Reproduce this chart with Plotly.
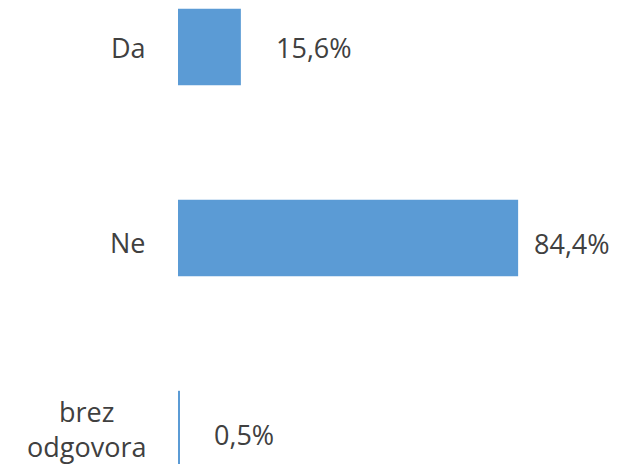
import plotly.graph_objects as go

categories = ["Da", "Ne", "brez<br>odgovora"]
values = [15.6, 84.4, 0.5]
value_labels = ["15,6%", "84,4%", "0,5%"]

bar_color = "#5B9BD5"
text_color = "#404040"
font_family = "Open Sans"

y_pos = list(range(len(categories)))

fig = go.Figure()
fig.add_trace(go.Bar(
    x=values, y=y_pos, orientation="h",
    marker=dict(color=bar_color, line=dict(width=0)),
    width=0.4,
    hoverinfo="skip",
))

# value labels, offset like the original
label_shift = [33, 14, 32]
label_yshift = [0, -5, -5]
for v, yy, lab, dx, dy in zip(values, y_pos, value_labels, label_shift, label_yshift):
    fig.add_annotation(x=v, y=yy, text=lab, showarrow=False, xanchor="left",
                       xshift=dx, yshift=dy,
                       font=dict(size=27, color=text_color, family=font_family))

# category labels (centered for the two-line one)
cat_yshift = [0, -4, 0]
for c, yy, dy in zip(categories, y_pos, cat_yshift):
    fig.add_annotation(x=0, xref="paper", y=yy, text=c, showarrow=False,
                       xanchor="right", align="center", xshift=-30, yshift=dy,
                       font=dict(size=27, color=text_color, family=font_family))

# page body adds an 8px offset, so the plot area starts at 8px
fig.update_xaxes(range=[0, 440 / 4.03], visible=False, fixedrange=True)
fig.update_yaxes(range=[(464 - 47) / 191, (8 - 47) / 191], visible=False, fixedrange=True)

fig.update_layout(
    width=610, height=456,
    margin=dict(l=170, r=0, t=0, b=0),
    plot_bgcolor="white", paper_bgcolor="white",
    showlegend=False,
)

fig.write_html("out.html")
